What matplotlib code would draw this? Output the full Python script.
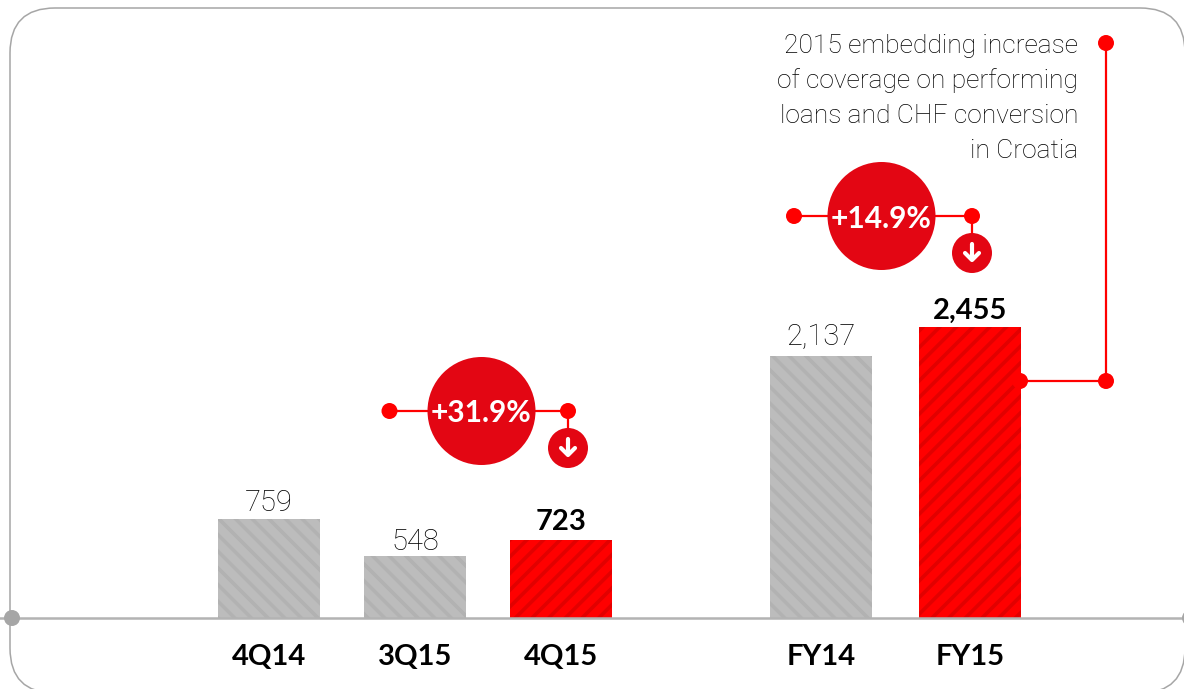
# -*- coding: utf-8 -*-
"""
Barras 4Q14-FY15 con notas y porcentajes en circulos
Los ejes van en pixeles de la imagen: y = 0 es la linea base
"""
import matplotlib
matplotlib.use('Agg')
import matplotlib.pyplot as plt
from matplotlib.patches import Circle, FancyBboxPatch

categories = ['4Q14', '3Q15', '4Q15', 'FY14', 'FY15']
value_labels = ['759', '548', '723', '2,137', '2,455']
# alturas, las barras no estan a escala con las etiquetas
bar_heights = [99, 62, 78, 262, 291]
highlight = [False, False, True, False, True]
pct_labels = ['+31.9%', '+14.9%']
note_lines = ['2015 embedding increase', 'of coverage on performing',
              'loans and CHF conversion', 'in Croatia']

bar_x = [269, 415, 561, 821, 970]
label_pad = [2, 0, 5, 5, 3]
BASE = 618
RED = '#ff0000'
DARK_RED = '#e30613'
GREY = '#b3b3b3'
THIN = 'Roboto'

plt.rcParams['hatch.linewidth'] = 2.6
plt.rcParams['font.family'] = ['Lato', 'DejaVu Sans']


def py(y):
    """pixel vertical de la imagen a coordenada del eje"""
    return BASE - y


def dot(ax, x, y, r=8, color=RED, z=5):
    ax.add_patch(Circle((x, py(y)), r, fc=color, ec='none', zorder=z))


def seg(ax, xs, ys, color=RED, lw=1.6, z=4):
    ax.plot(xs, [py(v) for v in ys], color=color, lw=lw, zorder=z,
            solid_capstyle='butt')


def pct_badge(ax, cx, y, x0, x1, label):
    """circulo grande, linea con puntos y circulo pequeno con flecha"""
    seg(ax, [x0, x1], [y, y])
    seg(ax, [x1, x1], [y, y + 20])
    dot(ax, x0, y)
    dot(ax, x1, y)
    dot(ax, cx, y, r=54, color=DARK_RED)
    ax.text(cx, py(y), label, color='white', fontsize=21.5, fontweight='bold',
            ha='center', va='center_baseline', zorder=6)
    ay = y + 37
    dot(ax, x1, ay, r=20, color=DARK_RED)
    ax.plot([x1, x1], [py(ay - 9), py(ay + 6)], color='white', lw=3, zorder=6,
            solid_capstyle='round')
    ax.plot([x1 - 7, x1, x1 + 7], [py(ay), py(ay + 7), py(ay)], color='white',
            lw=3, zorder=6, solid_capstyle='round', solid_joinstyle='round')


fig = plt.figure(figsize=(11.84, 6.89), dpi=100)
ax = fig.add_axes([0, 0, 1, 1])
ax.set_xlim(0, 1184)
ax.set_ylim(py(689), py(0))
ax.patch.set_visible(False)

# marco redondeado, se corta por abajo y por la derecha
ax.add_patch(FancyBboxPatch((55, py(648)), 1085, 595,
                            boxstyle='round,pad=45,rounding_size=45',
                            fc='none', ec='#a6a6a6', lw=1.1, zorder=1))

for i, (x, h, hl) in enumerate(zip(bar_x, bar_heights, highlight)):
    if hl:
        ax.bar(x, h, width=102, color=RED, edgecolor='#e20000', hatch='//',
               lw=0, zorder=2)
        ax.text(x, h + label_pad[i], value_labels[i], fontsize=21, ha='center',
                va='bottom', color='black', fontweight='bold', zorder=3)
    else:
        ax.bar(x, h, width=102, color='#bcbcbc', edgecolor='#b2b2b2',
               hatch='\\\\', lw=0, zorder=2)
        ax.text(x, h + label_pad[i], value_labels[i], fontsize=21, ha='center',
                va='bottom', color='black', family=THIN, fontweight='light',
                zorder=3)

for s in ['top', 'left', 'right']:
    ax.spines[s].set_visible(False)
ax.spines['bottom'].set_position(('data', 0))
ax.spines['bottom'].set_color(GREY)
ax.spines['bottom'].set_linewidth(1.8)
ax.spines['bottom'].set_zorder(3)
ax.set_yticks([])
ax.set_xticks(bar_x, categories, fontsize=21, fontweight='bold')
ax.tick_params(axis='x', length=0, pad=19)

dot(ax, 12, BASE, color='#a6a6a6')
dot(ax, 1190, BASE, color='#a6a6a6')

pct_badge(ax, 481.5, 411, 389.5, 568, pct_labels[0])
pct_badge(ax, 881.5, 216, 794, 972, pct_labels[1])

# nota de FY15
seg(ax, [1020, 1106, 1106], [381, 381, 43])
dot(ax, 1020, 381)
dot(ax, 1106, 381)
dot(ax, 1106, 43)
for i, line in enumerate(note_lines):
    ax.text(1078, py(43 + 35.3 * i), line, fontsize=19, ha='right',
            va='center_baseline', color='black', family=THIN,
            fontweight='light')

fig.savefig('out.png', dpi=100)
plt.close('all')
